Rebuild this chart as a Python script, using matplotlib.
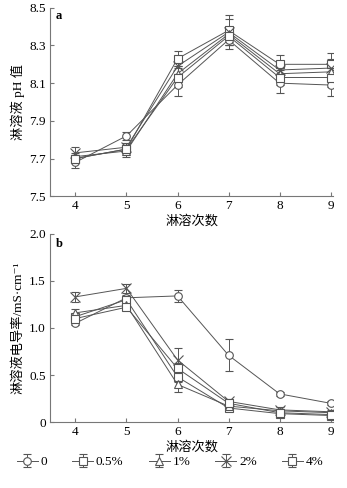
import matplotlib
matplotlib.use('Agg')
import matplotlib.pyplot as plt

plt.rcParams['font.family'] = ['Liberation Serif', 'Noto Sans CJK SC', 'DejaVu Serif']

# data
times = [4, 5, 6, 7, 8, 9]
groups = ['0', '0.5%', '1%', '2%', '4%']
markers = ['o', 's', '^', 'x', 's']

ph = {
    '0':    [7.68, 7.82, 8.09, 8.33, 8.10, 8.09],
    '0.5%': [7.70, 7.75, 8.23, 8.38, 8.20, 8.20],
    '1%':   [7.71, 7.74, 8.15, 8.36, 8.15, 8.16],
    '2%':   [7.73, 7.76, 8.19, 8.37, 8.17, 8.18],
    '4%':   [7.70, 7.75, 8.13, 8.35, 8.13, 8.13],
}
ph_err = {
    '0':    [0.03, 0.02, 0.06, 0.05, 0.05, 0.06],
    '0.5%': [0.02, 0.02, 0.04, 0.08, 0.05, 0.06],
    '1%':   [0.02, 0.03, 0.04, 0.04, 0.04, 0.05],
    '2%':   [0.03, 0.02, 0.04, 0.07, 0.04, 0.05],
    '4%':   [0.02, 0.02, 0.05, 0.05, 0.04, 0.05],
}
ec = {
    '0':    [1.05, 1.32, 1.34, 0.71, 0.30, 0.20],
    '0.5%': [1.12, 1.30, 0.48, 0.15, 0.09, 0.07],
    '1%':   [1.16, 1.24, 0.40, 0.17, 0.12, 0.10],
    '2%':   [1.33, 1.42, 0.66, 0.22, 0.13, 0.11],
    '4%':   [1.10, 1.22, 0.57, 0.20, 0.10, 0.08],
}
ec_err = {
    '0':    [0.02, 0.03, 0.06, 0.17, 0.02, 0.02],
    '0.5%': [0.03, 0.04, 0.05, 0.03, 0.02, 0.02],
    '1%':   [0.04, 0.03, 0.08, 0.03, 0.02, 0.02],
    '2%':   [0.05, 0.05, 0.13, 0.03, 0.03, 0.02],
    '4%':   [0.03, 0.03, 0.06, 0.03, 0.02, 0.02],
}

col = '#555555'
fig = plt.figure(figsize=(3.47, 4.88), dpi=100)
ax1 = fig.add_axes([0.144, 0.598, 0.816, 0.386])
ax2 = fig.add_axes([0.144, 0.135, 0.816, 0.386])

for ax, data, err in [(ax1, ph, ph_err), (ax2, ec, ec_err)]:
    for g, m in zip(groups, markers):
        ax.errorbar(times, data[g], yerr=err[g], color=col, lw=0.7,
                    marker=m, ms=5.5 if m != 'x' else 6.5, mfc='white', mec=col,
                    mew=0.8, elinewidth=0.7, capsize=3, capthick=0.7,
                    label=g)
    ax.set_xlim(3.5, 9.05)
    ax.set_xticks(times)
    for s in ['top', 'right']:
        ax.spines[s].set_visible(False)
    for s in ['left', 'bottom']:
        ax.spines[s].set_color('#777777')
        ax.spines[s].set_linewidth(0.8)
    ax.tick_params(direction='in', length=3, color='#777777',
                   labelsize=9.5, pad=3)
    ax.set_xlabel('淋溶次数', fontsize=9.5, labelpad=2)

ax1.set_ylim(7.5, 8.5)
ax1.set_yticks([7.5, 7.7, 7.9, 8.1, 8.3, 8.5])
ax1.set_ylabel('淋溶液 pH 值', fontsize=9.5, labelpad=3)
ax1.text(3.62, 8.44, 'a', fontsize=9, fontweight='bold')

ax2.set_ylim(0, 2.0)
ax2.set_yticks([0, 0.5, 1.0, 1.5, 2.0])
ax2.set_yticklabels(['0', '0.5', '1.0', '1.5', '2.0'])
ax2.set_ylabel('淋溶液电导率/mS·cm⁻¹', fontsize=9.5, labelpad=3)
ax2.text(3.62, 1.86, 'b', fontsize=9, fontweight='bold')

h, l = ax2.get_legend_handles_labels()
fig.legend(h, l, loc='center', bbox_to_anchor=(0.49, 0.053), ncol=5,
           frameon=False, fontsize=9.5, handlelength=1.6, handletextpad=0.2,
           columnspacing=1.9)

fig.savefig('out.png', dpi=100)
